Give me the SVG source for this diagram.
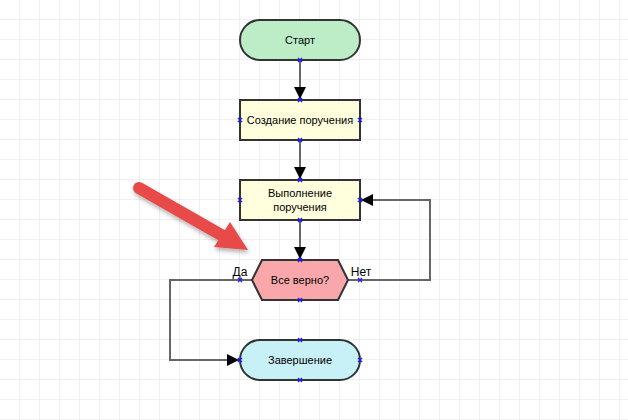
<svg xmlns="http://www.w3.org/2000/svg" width="628" height="420" viewBox="0 0 628 420">
<defs>
<pattern id="grid" width="20" height="20" patternUnits="userSpaceOnUse">
<path d="M20 0V20M0 20H20" fill="none" stroke="#ebebeb" stroke-width="1.5"/>
</pattern>
<marker id="arr" markerWidth="12" markerHeight="12" refX="12" refY="6" orient="auto" markerUnits="userSpaceOnUse">
<path d="M0,0 L12,6 L0,12 Z" fill="#000"/>
</marker>
<filter id="sh" x="-20%" y="-20%" width="140%" height="140%">
<feDropShadow dx="1" dy="3" stdDeviation="2" flood-color="#000" flood-opacity="0.3"/>
</filter>
<g id="xm"><path d="M-2,-2L2,2M-2,2L2,-2" stroke="#1a1aff" stroke-width="1.2"/></g>
</defs>
<style>
.n{stroke:#333;stroke-width:2}
.t{font-family:"Liberation Sans",Arial,sans-serif;font-size:11px;fill:#000;text-anchor:middle}
.l{font-family:"Liberation Sans",Arial,sans-serif;font-size:12px;fill:#000;text-anchor:middle}
.c{fill:none;stroke:#666;stroke-width:2}
</style>
<rect width="628" height="420" fill="#fff"/>
<rect width="628" height="420" fill="url(#grid)"/>
<g id="connectors">
<path class="c" d="M300,61V99" marker-end="url(#arr)"/>
<path class="c" d="M300,141V179" marker-end="url(#arr)"/>
<path class="c" d="M300,221V259" marker-end="url(#arr)"/>
<path class="c" d="M348,280H430V200H361" marker-end="url(#arr)"/>
<path class="c" d="M252,280H170V360H239" marker-end="url(#arr)"/>
<text class="l" x="240" y="276">Да</text>
<text class="l" x="361" y="276">Нет</text>
</g>
<g id="start">
<rect class="n" x="240" y="20" width="120" height="40" rx="20" fill="#bdedc7"/>
<text class="t" x="300" y="44">Старт</text>
</g>
<g id="create">
<rect class="n" x="240" y="100" width="120" height="40" fill="#ffffdd"/>
<text class="t" x="300" y="124">Создание поручения</text>
</g>
<g id="exec">
<rect class="n" x="240" y="180" width="120" height="40" fill="#ffffdd"/>
<text class="t" x="300" y="197">Выполнение</text>
<text class="t" x="300" y="211">поручения</text>
</g>
<g id="decision">
<polygon class="n" points="252,280 262,260 338,260 348,280 338,300 262,300" fill="#f9a7aa"/>
<text class="t" x="300" y="284">Все верно?</text>
</g>
<g id="end">
<rect class="n" x="240" y="340" width="120" height="40" rx="20" fill="#c8f1f7"/>
<text class="t" x="300" y="364">Завершение</text>
</g>
<g id="markers">
<use href="#xm" x="300" y="60"/>
<use href="#xm" x="300" y="100"/>
<use href="#xm" x="240" y="120"/>
<use href="#xm" x="360" y="120"/>
<use href="#xm" x="300" y="140"/>
<use href="#xm" x="300" y="180"/>
<use href="#xm" x="240" y="200"/>
<use href="#xm" x="360" y="200"/>
<use href="#xm" x="300" y="220"/>
<use href="#xm" x="300" y="260"/>
<use href="#xm" x="240" y="280"/>
<use href="#xm" x="360" y="280"/>
<use href="#xm" x="300" y="300"/>
<use href="#xm" x="300" y="340"/>
<use href="#xm" x="240" y="360"/>
<use href="#xm" x="360" y="360"/>
<use href="#xm" x="300" y="380"/>
</g>
<g id="pointer" filter="url(#sh)">
<path d="M139,188L223,236" stroke="#e84a4a" stroke-width="12" stroke-linecap="round" fill="none"/>
<polygon points="230,222 248,250 214,247" fill="#e84a4a"/>
</g>
</svg>
